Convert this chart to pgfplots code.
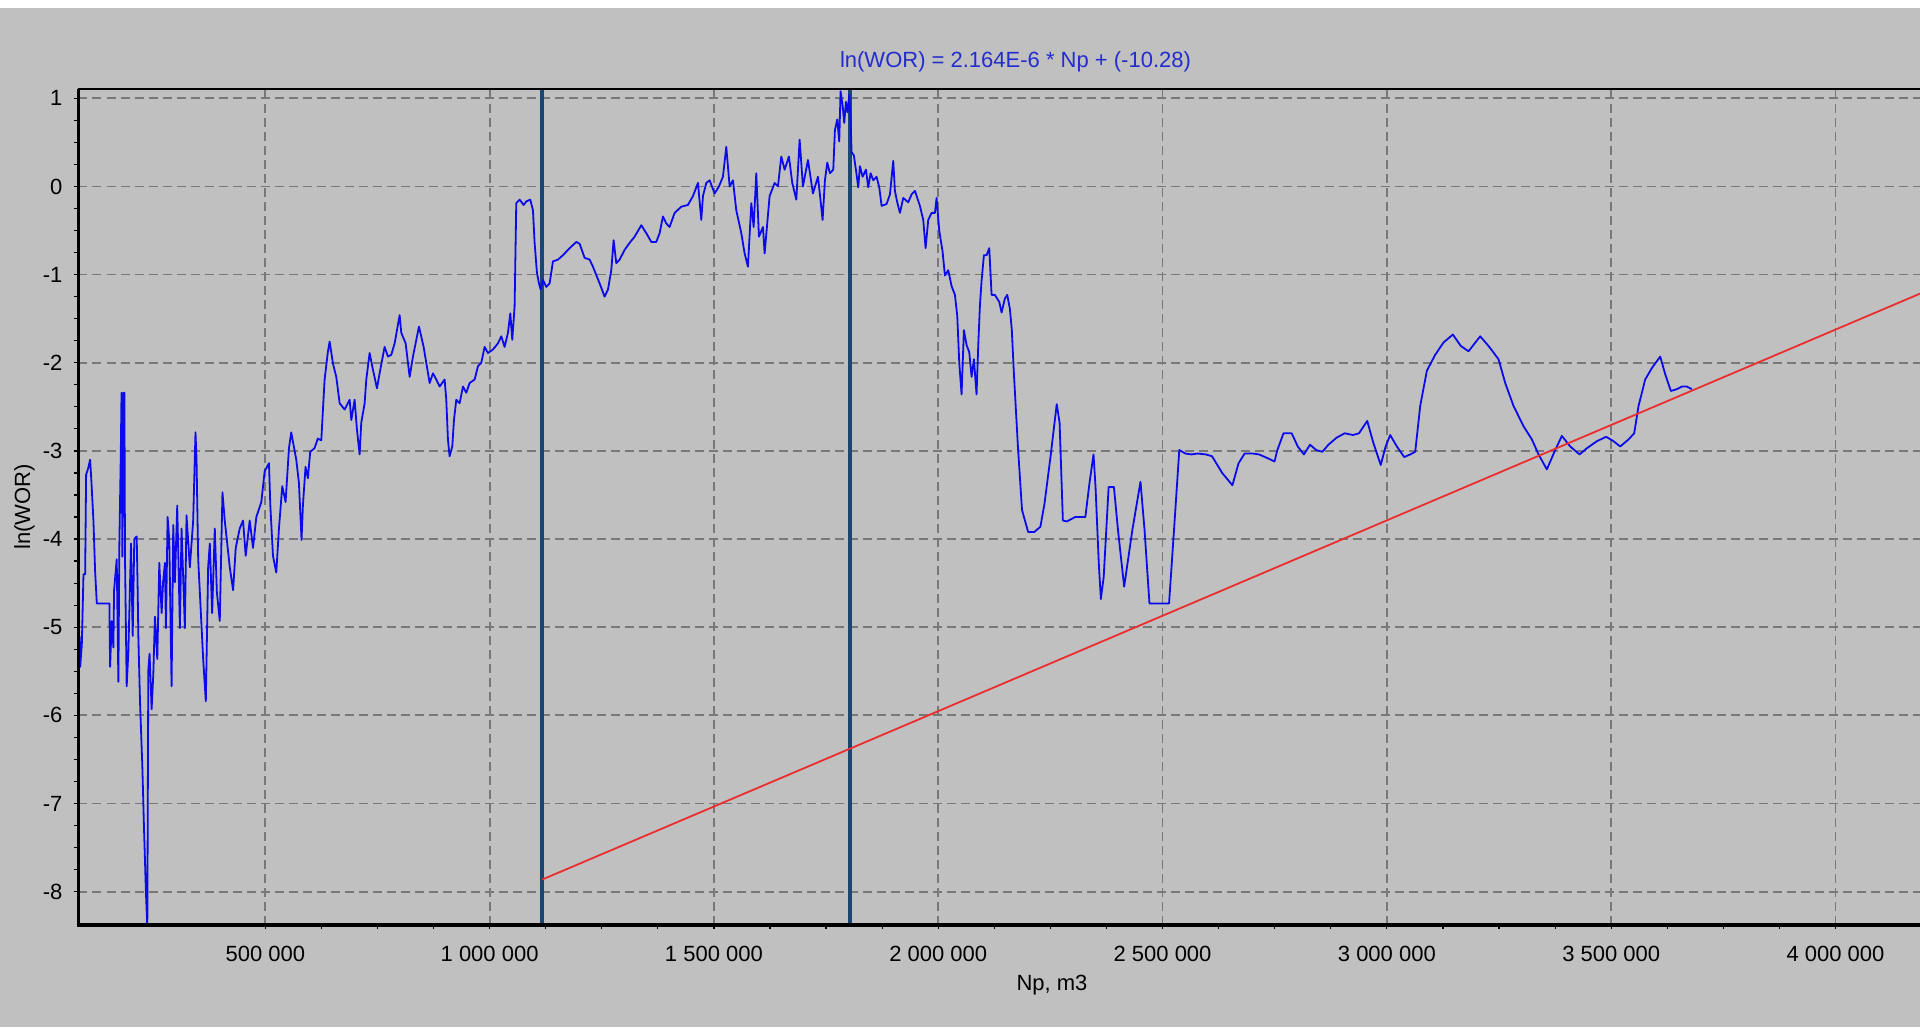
\documentclass[border=0pt]{standalone}
\usepackage{fontspec}
\setmainfont{Liberation Sans}
\usepackage{pgfplots}
\pgfplotsset{compat=1.18}

\definecolor{bg}{RGB}{192,192,192}
\definecolor{worline}{RGB}{10,10,235}
\definecolor{marker}{RGB}{25,70,115}
\definecolor{fitline}{RGB}{235,45,45}
\definecolor{ttl}{RGB}{35,45,205}
\definecolor{gridc}{RGB}{120,120,120}

\begin{document}
\begin{tikzpicture}
% page background (0.5pt per pixel of the 1920x1027 reference)
\fill[bg] (-39.25pt,-51pt) rectangle (920.75pt,462.5pt);
\fill[white] (-39.25pt,458.35pt) rectangle (920.75pt,462.5pt);

\begin{axis}[
  name=ax,
  scale only axis,
  width=923.35pt, height=417.85pt,
  xmin=83600, xmax=4200000,
  ymin=-8.378, ymax=1.102,
  axis line style={draw=none},
  scaled x ticks=false, scaled y ticks=false,
  xtick={500000,1000000,1500000,2000000,2500000,3000000,3500000,4000000},
  xticklabels={500 000,1 000 000,1 500 000,2 000 000,2 500 000,3 000 000,3 500 000,4 000 000},
  ytick={-8,-7,-6,-5,-4,-3,-2,-1,0,1},
  yticklabels={-8,-7,-6,-5,-4,-3,-2,-1,0,1},
  minor x tick num=3, minor y tick num=3,
  tick pos=left, tick align=outside,
  major tick length=2pt, minor tick length=2pt,
  tick style={black, line width=0.6pt},
  grid=major,
  major grid style={gridc, line width=0.9pt, dash pattern=on 4.5pt off 2.5pt},
  tick label style={font=\fontsize{11}{13}\selectfont, black},
  xticklabel style={yshift=-5pt},
  yticklabel style={xshift=-2.5pt},
]

% fit window markers
\addplot[marker, line width=1.7pt] coordinates {(1117000,-8.5) (1117000,1.2)};
\addplot[marker, line width=1.7pt] coordinates {(1803000,-8.5) (1803000,1.2)};

% ln(WOR) vs Np
\addplot[worline, line width=0.9pt, line join=round, no markers] coordinates {
(86000,-5.10) (87300,-5.45) (91000,-5.20) (94700,-4.40) (98400,-4.40) (100600,-3.27)
(105000,-3.20) (109500,-3.10) (112000,-3.31) (116900,-3.79) (120600,-4.36) (124400,-4.73)
(152500,-4.73) (154000,-5.45) (157700,-4.93) (161400,-5.23) (162900,-4.58) (168800,-4.23)
(172500,-5.62) (174700,-4.05) (177700,-3.10) (179500,-2.34) (181400,-4.20) (183500,-2.34)
(185900,-2.34) (187300,-4.23) (191000,-5.67) (194800,-5.27) (200700,-4.05) (204400,-5.10)
(208000,-4.00) (213300,-3.97) (215500,-4.58) (217000,-5.10) (220700,-5.84) (225900,-6.58)
(229600,-7.28) (234000,-8.02) (237000,-8.40) (239200,-5.49) (242000,-5.30) (246600,-5.93)
(250300,-5.54) (254000,-4.88) (259200,-5.36) (263700,-4.27) (268900,-4.84) (272000,-4.50)
(276300,-4.27) (278500,-5.01) (282200,-3.75) (285900,-4.01) (291100,-5.67) (294800,-3.84)
(298500,-4.49) (303700,-3.62) (309600,-5.01) (313300,-3.88) (320700,-5.01) (324400,-3.73)
(331800,-4.32) (339200,-3.79) (344400,-2.79) (346700,-3.10) (350400,-4.23) (355500,-4.75)
(361500,-5.36) (367400,-5.84) (372600,-4.32) (376300,-4.05) (381500,-4.84) (387400,-3.88)
(392000,-4.60) (398500,-4.93) (404500,-3.47) (409600,-3.79) (420800,-4.32) (428200,-4.58)
(434100,-4.10) (443000,-3.88) (450400,-3.79) (456300,-4.19) (465200,-3.79) (472600,-4.10)
(480000,-3.75) (491100,-3.58) (498600,-3.23) (508200,-3.14) (511200,-3.62) (517100,-4.19)
(524500,-4.38) (530400,-3.88) (537800,-3.40) (545200,-3.58) (552700,-2.97) (557800,-2.79)
(569000,-3.10) (574900,-3.36) (580800,-4.01) (583800,-3.62) (589700,-3.18) (594900,-3.31)
(600100,-3.01) (609700,-2.97) (617100,-2.86) (624800,-2.88) (628500,-2.53) (632200,-2.19)
(639400,-1.88) (643400,-1.76) (650800,-2.01) (658200,-2.16) (665700,-2.46) (676800,-2.53)
(688000,-2.42) (691700,-2.65) (699100,-2.42) (704300,-2.76) (710200,-3.04) (713900,-2.68)
(721400,-2.46) (725100,-2.19) (732500,-1.89) (740000,-2.08) (748900,-2.29) (754800,-2.12)
(765900,-1.82) (773400,-1.93) (780800,-1.91) (788300,-1.78) (799400,-1.46) (803100,-1.66)
(812800,-1.78) (821700,-2.16) (829100,-1.93) (842500,-1.59) (852900,-1.82) (858800,-2.00)
(866300,-2.23) (873700,-2.12) (881100,-2.19) (888600,-2.27) (899700,-2.19) (903400,-2.42)
(907100,-2.87) (910800,-3.06) (916800,-2.95) (920500,-2.65) (925700,-2.42) (933100,-2.46)
(940600,-2.27) (948000,-2.34) (955400,-2.23) (966600,-2.19) (974000,-2.04) (981400,-2.00)
(988900,-1.82) (996300,-1.89) (1007400,-1.85) (1018600,-1.78) (1026000,-1.70) (1033400,-1.82)
(1040900,-1.66) (1046100,-1.44) (1050500,-1.74) (1055700,-1.36) (1059400,-0.19) (1066900,-0.15)
(1075800,-0.21) (1081700,-0.17) (1090600,-0.15) (1096600,-0.27) (1100300,-0.64) (1105500,-0.98)
(1110000,-1.10) (1113700,-1.17) (1118900,-1.06) (1126300,-1.14) (1133700,-1.10) (1141200,-0.85)
(1152300,-0.83) (1163500,-0.78) (1178300,-0.70) (1193200,-0.63) (1200600,-0.65) (1211800,-0.81)
(1222900,-0.83) (1230300,-0.91) (1245200,-1.10) (1256300,-1.25) (1263800,-1.17) (1271200,-0.95)
(1276400,-0.61) (1282300,-0.87) (1289800,-0.83) (1300900,-0.72) (1312100,-0.64) (1323200,-0.57)
(1338100,-0.44) (1349200,-0.53) (1360400,-0.63) (1371500,-0.63) (1378900,-0.53) (1386400,-0.34)
(1393800,-0.42) (1401200,-0.46) (1412400,-0.30) (1427200,-0.23) (1442100,-0.21) (1453200,-0.11)
(1464400,0.04) (1471800,-0.38) (1475500,-0.11) (1483000,0.04) (1490400,0.07) (1501500,-0.08)
(1511200,0.00) (1520100,0.11) (1527500,0.45) (1535000,0.00) (1542400,0.07) (1549800,-0.27)
(1561000,-0.53) (1568400,-0.76) (1575800,-0.91) (1583300,-0.19) (1588500,-0.46) (1594400,0.15)
(1600300,-0.57) (1609300,-0.46) (1613000,-0.76) (1624100,-0.11) (1635300,0.04) (1642700,0.00)
(1650100,0.34) (1657600,0.19) (1667200,0.34) (1674600,0.04) (1683600,-0.15) (1691000,0.53)
(1698400,0.00) (1709600,0.30) (1720700,-0.08) (1731900,0.11) (1736200,-0.09) (1742200,-0.38)
(1747400,0.07) (1752600,0.27) (1758500,0.15) (1766000,0.19) (1769700,0.64) (1774900,0.76)
(1779300,0.51) (1782300,1.08) (1786800,0.92) (1790500,0.72) (1794200,0.96) (1797900,0.84)
(1801600,1.04) (1804600,0.76) (1806800,0.39) (1812000,0.35) (1816500,0.19) (1821700,-0.01)
(1825400,0.23) (1831400,0.11) (1838800,0.19) (1844000,-0.01) (1849200,0.15) (1855100,0.07)
(1862500,0.11) (1868500,-0.01) (1873700,-0.22) (1884800,-0.20) (1892300,-0.09) (1899700,0.29)
(1903400,-0.05) (1908600,-0.18) (1914600,-0.30) (1922000,-0.13) (1933100,-0.18) (1940600,-0.09)
(1948000,-0.05) (1959100,-0.22) (1966600,-0.38) (1971800,-0.70) (1977700,-0.38) (1985100,-0.30)
(1992600,-0.30) (1996300,-0.13) (2002200,-0.50) (2009700,-0.74) (2014900,-1.01) (2022300,-0.95)
(2029700,-1.13) (2037200,-1.23) (2042400,-1.47) (2046800,-2.00) (2052000,-2.36) (2057200,-1.63)
(2063200,-1.80) (2069100,-1.88) (2074300,-2.16) (2079500,-1.96) (2085400,-2.36) (2089200,-1.80)
(2092900,-1.35) (2096600,-1.07) (2101800,-0.78) (2107700,-0.78) (2113700,-0.70) (2118900,-1.23)
(2126300,-1.23) (2136000,-1.31) (2141200,-1.43) (2148600,-1.27) (2153800,-1.23) (2159700,-1.39)
(2163900,-1.62) (2168500,-2.11) (2177600,-2.95) (2186700,-3.67) (2200400,-3.92) (2214000,-3.92)
(2227700,-3.86) (2236800,-3.60) (2250400,-3.06) (2264100,-2.47) (2270500,-2.68) (2277800,-3.79)
(2286900,-3.80) (2305100,-3.75) (2327900,-3.75) (2337000,-3.37) (2346100,-3.04) (2350600,-3.41)
(2357900,-4.28) (2362500,-4.68) (2368800,-4.43) (2379800,-3.41) (2391600,-3.41) (2400700,-3.90)
(2414400,-4.54) (2432600,-3.90) (2450800,-3.35) (2459900,-3.90) (2470800,-4.73) (2487200,-4.73)
(2514500,-4.73) (2525500,-3.90) (2537300,-2.99) (2551000,-3.03) (2564600,-3.04) (2578300,-3.03)
(2596500,-3.04) (2610200,-3.06) (2632900,-3.25) (2655700,-3.39) (2669400,-3.14) (2683000,-3.03)
(2701200,-3.03) (2714900,-3.04) (2733100,-3.08) (2749500,-3.12) (2755900,-2.99) (2769600,-2.80)
(2787800,-2.80) (2801400,-2.95) (2815100,-3.04) (2828700,-2.93) (2842400,-2.99) (2856100,-3.01)
(2869700,-2.93) (2887900,-2.85) (2906100,-2.80) (2924400,-2.82) (2938000,-2.80) (2956200,-2.66)
(2969900,-2.91) (2986300,-3.16) (2997200,-2.95) (3007400,-2.82) (3022300,-2.95) (3038600,-3.07)
(3052000,-3.04) (3063200,-3.01) (3074300,-2.49) (3089200,-2.09) (3107700,-1.91) (3126300,-1.77)
(3147100,-1.68) (3164900,-1.81) (3182000,-1.87) (3208000,-1.70) (3226600,-1.81) (3248900,-1.96)
(3263800,-2.23) (3282300,-2.49) (3304600,-2.72) (3323200,-2.87) (3338100,-3.04) (3356600,-3.21)
(3375200,-2.99) (3390100,-2.83) (3408700,-2.95) (3429500,-3.04) (3445800,-2.97) (3468100,-2.89)
(3488900,-2.84) (3505200,-2.89) (3520100,-2.95) (3538700,-2.87) (3551300,-2.80) (3561000,-2.49)
(3575800,-2.19) (3590700,-2.06) (3609300,-1.93) (3620400,-2.13) (3633000,-2.32) (3646400,-2.30)
(3657600,-2.27) (3668700,-2.27) (3679800,-2.30)
};

% fitted line ln(WOR) = 2.164E-6 * Np - 10.28
\addplot[fitline, line width=0.9pt] coordinates {(1117000,-7.863) (4200000,-1.191)};
\end{axis}

% frame
\draw[black, line width=1.7pt] (ax.north west) -- (ax.south west) -- (ax.south east);
\draw[black, line width=1pt] (ax.north west) -- (ax.north east);

% titles
\node[ttl, font=\fontsize{11}{13}\selectfont] at (468.5pt,431.65pt) {ln(WOR) = 2.164E-6 * Np + (-10.28)};
\node[black, font=\fontsize{11}{13}\selectfont] at (486.75pt,-30pt) {Np, m3};
\node[black, font=\fontsize{11}{13}\selectfont, rotate=90] at (-27pt,209.15pt) {ln(WOR)};

\pgfresetboundingbox
\useasboundingbox (-39.25pt,-51pt) rectangle (920.75pt,462.5pt);
\end{tikzpicture}
\end{document}
